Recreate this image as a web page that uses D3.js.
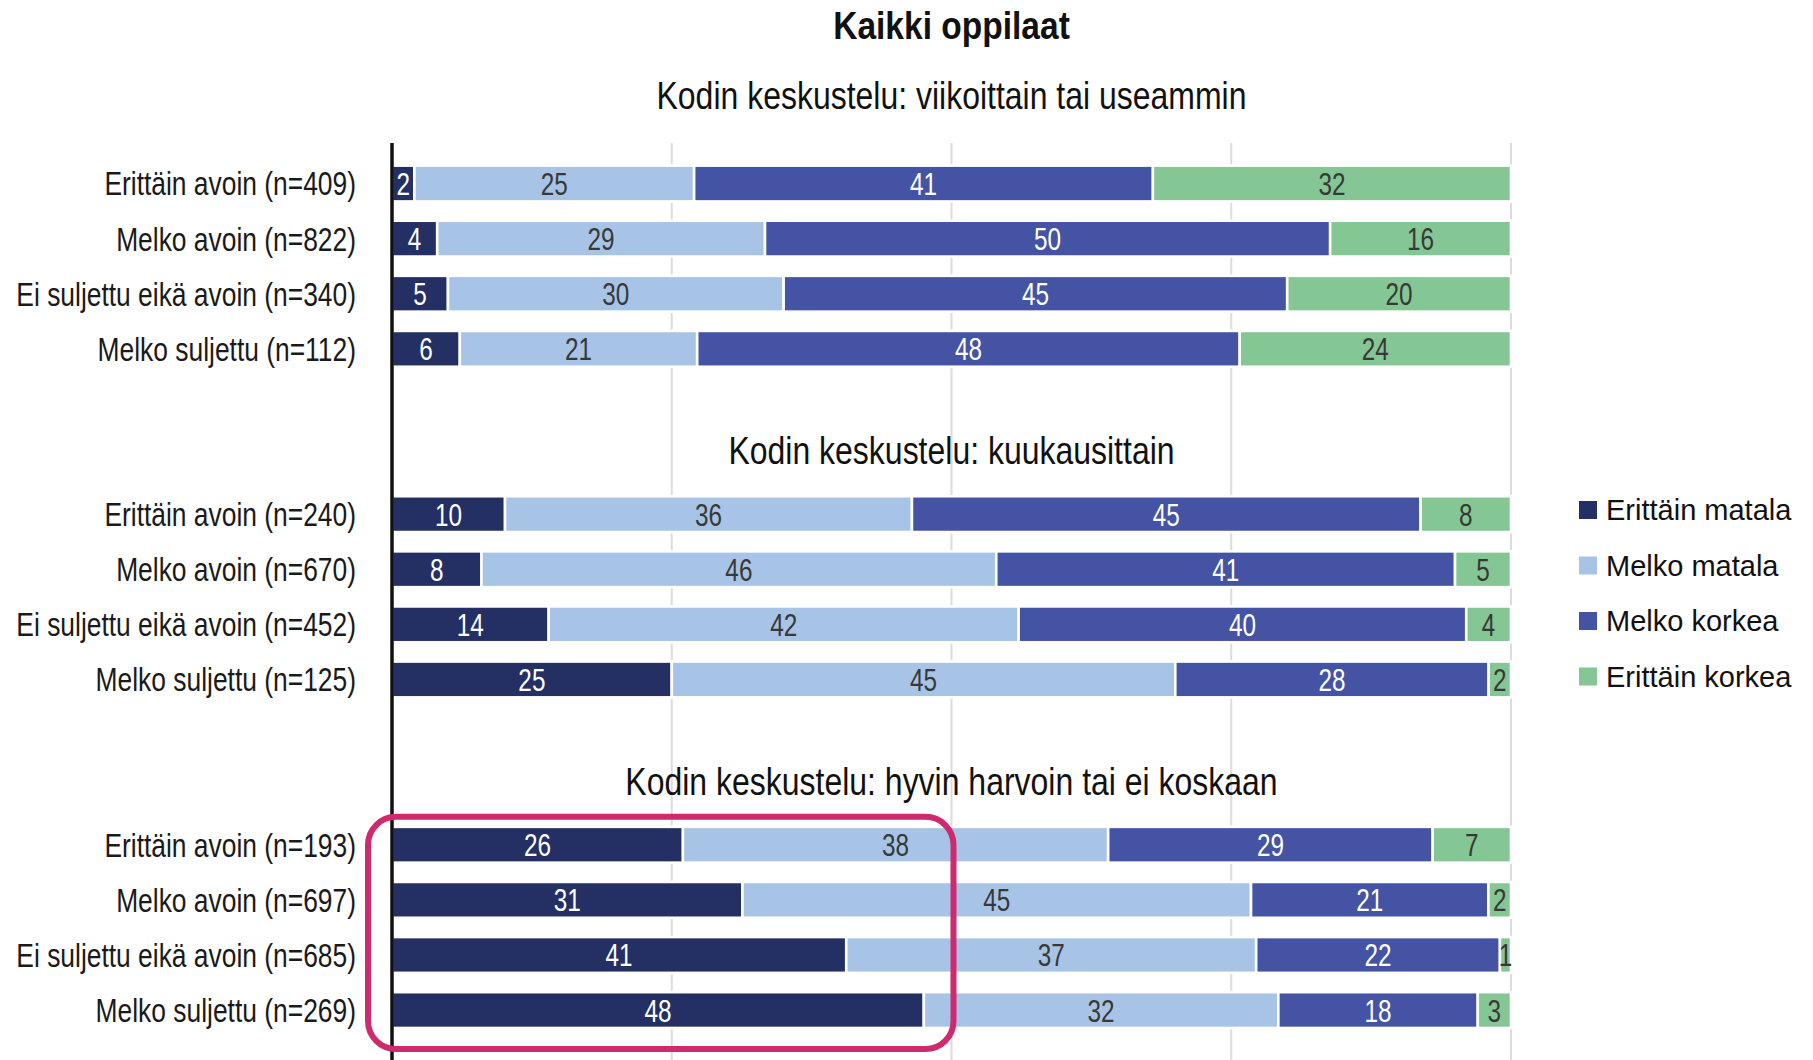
<!DOCTYPE html>
<html><head><meta charset="utf-8">
<script src="https://cdn.jsdelivr.net/npm/d3@7"></script>
<style>body{margin:0;background:#fff} svg{display:block}</style>
</head><body>
<script>
// ---------- data ----------
const mainTitle = "Kaikki oppilaat";
const groupTitles = [
  "Kodin keskustelu: viikoittain tai useammin",
  "Kodin keskustelu: kuukausittain",
  "Kodin keskustelu: hyvin harvoin tai ei koskaan"
];
const categories = ["Erittäin avoin", "Melko avoin", "Ei suljettu eikä avoin", "Melko suljettu"];
const seriesNames = ["Erittäin matala", "Melko matala", "Melko korkea", "Erittäin korkea"];
const sampleSizes = [[409, 822, 340, 112], [240, 670, 452, 125], [193, 697, 685, 269]];
const erittainMatala = [[2, 4, 5, 6], [10, 8, 14, 25], [26, 31, 41, 48]];
const melkoMatala   = [[25, 29, 30, 21], [36, 46, 42, 45], [38, 45, 37, 32]];
const melkoKorkea   = [[41, 50, 45, 48], [45, 41, 40, 28], [29, 21, 22, 18]];
const erittainKorkea = [[32, 16, 20, 24], [8, 5, 4, 2], [7, 2, 1, 3]];
const seriesValues = [erittainMatala, melkoMatala, melkoKorkea, erittainKorkea];
const xTicks = [0, 25, 50, 75, 100];
const colors = ["#243064", "#a7c4e7", "#4453a3", "#84c694"];
const labelColors = ["#ffffff", "#383838", "#ffffff", "#383838"];

// ---------- layout ----------
const W = 1813, H = 1060;
const svg = d3.select("body").append("svg").attr("width", W).attr("height", H);

const slotsPerGroup = 6;
const rows = [];
groupTitles.forEach((gt, g) => {
  categories.forEach((c, r) => {
    const o = { key: g * slotsPerGroup + r, group: g, label: `${c} (n=${sampleSizes[g][r]})` };
    seriesNames.forEach((s, i) => o[s] = seriesValues[i][g][r]);
    rows.push(o);
  });
});

const x = d3.scaleLinear().domain([0, 100]).range([392, 1511]);
const y = d3.scaleBand()
  .domain(d3.range(groupTitles.length * slotsPerGroup))
  .range([154.6, 1149.2])
  .paddingInner(0.35).paddingOuter(0.2);
const yc = k => y(k) + y.bandwidth() / 2;

const stack = d3.stack().keys(seriesNames).offset(d3.stackOffsetExpand);
const series = stack(rows);

const condensed = (sel, sx) => sel.attr("transform", d => `translate(${d.tx},${d.ty}) scale(${sx},1)`);

// gridlines
svg.append("g").selectAll("line").data(xTicks.filter(t => t > 0)).join("line")
  .attr("x1", d => x(d)).attr("x2", d => x(d))
  .attr("y1", 143).attr("y2", H)
  .attr("stroke", "#dcdcdc").attr("stroke-width", 2);

// bars
const sg = svg.append("g").selectAll("g").data(series).join("g")
  .attr("fill", (d, i) => colors[i]);
sg.selectAll("rect").data(d => d).join("rect")
  .attr("x", d => x(d[0] * 100))
  .attr("width", d => x(d[1] * 100) - x(d[0] * 100))
  .attr("y", d => y(d.data.key))
  .attr("height", y.bandwidth())
  .attr("stroke", "#fff").attr("stroke-width", 2.6);

// value labels
svg.append("g").selectAll("g").data(series).join("g")
  .attr("fill", (d, i) => labelColors[i])
  .selectAll("text").data((d, i) => d.map(p => ({ p, v: d.key, i })))
  .join("text")
  .each(function (d) {
    d.tx = x((d.p[0] + d.p[1]) / 2 * 100);
    d.ty = yc(d.p.data.key);
  })
  .call(condensed, 0.76)
  .attr("text-anchor", "middle").attr("dy", "0.36em")
  .attr("font-family", "Liberation Sans, Arial, sans-serif").attr("font-size", 32)
  .text(d => d.p.data[d.v]);

// axis line
svg.append("line").attr("x1", x(0)).attr("x2", x(0)).attr("y1", 143).attr("y2", H)
  .attr("stroke", "#111").attr("stroke-width", 3.5);

// category labels
svg.append("g").selectAll("text").data(rows).join("text")
  .each(d => { d.tx = 356; d.ty = yc(d.key); })
  .call(condensed, 0.80)
  .attr("text-anchor", "end").attr("dy", "0.36em")
  .attr("font-family", "Liberation Sans, Arial, sans-serif").attr("font-size", 33)
  .attr("fill", "#1a1a1a")
  .text(d => d.label);

// main title
svg.append("text").datum({ tx: (x(0) + x(100)) / 2, ty: 25 })
  .call(condensed, 0.86)
  .attr("text-anchor", "middle").attr("dy", "0.36em")
  .attr("font-family", "Liberation Sans, Arial, sans-serif").attr("font-size", 39)
  .attr("font-weight", "bold").attr("fill", "#111")
  .text(mainTitle);

// group titles
svg.append("g").selectAll("text").data(groupTitles.map((t, g) => ({
    t, tx: (x(0) + x(100)) / 2, ty: g === 0 ? 95 : yc(g * slotsPerGroup) - 64
  }))).join("text")
  .call(condensed, 0.82)
  .attr("text-anchor", "middle").attr("dy", "0.36em")
  .attr("font-family", "Liberation Sans, Arial, sans-serif").attr("font-size", 39)
  .attr("fill", "#111")
  .text(d => d.t);

// legend
const lg = svg.append("g").selectAll("g").data(seriesNames).join("g")
  .attr("transform", (d, i) => `translate(1579,${510 + i * 55.5})`);
lg.append("rect").attr("x", 0).attr("y", -9).attr("width", 18).attr("height", 18)
  .attr("fill", (d, i) => colors[i]);
lg.append("text").attr("x", 27).attr("dy", "0.36em")
  .attr("font-family", "Liberation Sans, Arial, sans-serif").attr("font-size", 29)
  .attr("fill", "#111").text(d => d);

// highlight box around the lowest group's first series
const lastGroupStart = (groupTitles.length - 1) * slotsPerGroup;
const boxTop = y(lastGroupStart) - 10;
const boxBottom = y(lastGroupStart + categories.length - 1) + y.bandwidth() + 21;
svg.append("rect")
  .attr("x", x(0) - 24).attr("width", x(50) - x(0) + 26)
  .attr("y", boxTop)
  .attr("height", boxBottom - boxTop)
  .attr("rx", 28).attr("ry", 28)
  .attr("fill", "none").attr("stroke", "#cf2a6d").attr("stroke-width", 6);
</script>
</body></html>
